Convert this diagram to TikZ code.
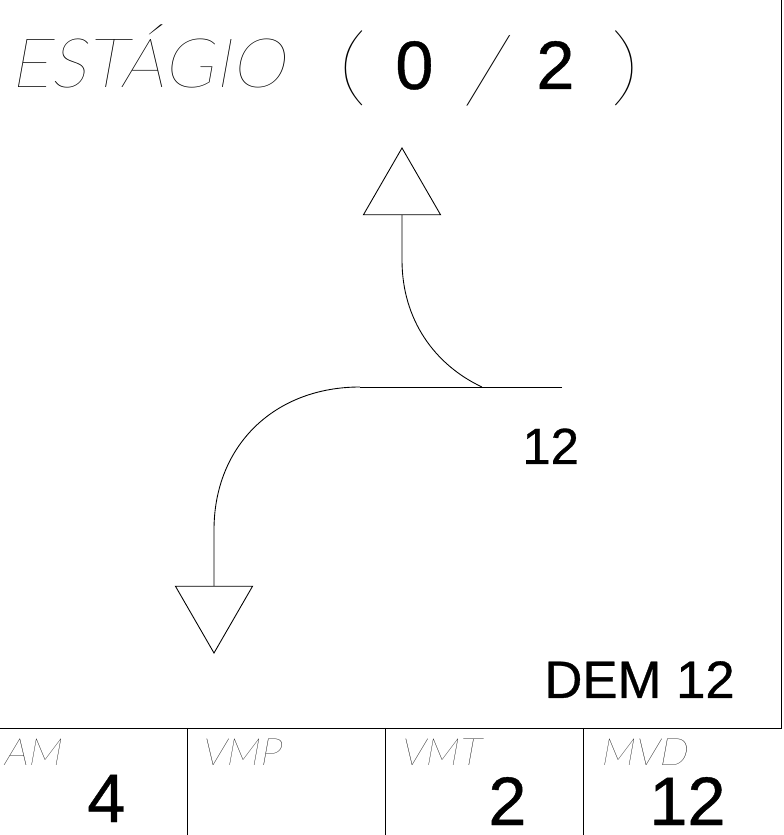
\documentclass[tikz,border=0pt]{standalone}
\usepackage{fontspec}
\setmainfont[FakeBold=0.6]{Liberation Sans}
\newfontfamily\thinfont[FakeSlant=0.18]{Lato Hairline}
\newfontfamily\thinupfont{Lato Hairline}
\usetikzlibrary{shapes.geometric}
\tikzset{
  marker/.style={draw, line width=0.5pt, regular polygon, regular polygon sides=3, inner sep=0pt, minimum size=1.78cm},
  thintext/.style={inner sep=0pt, anchor=base west, font=\thinfont\fontsize{21.5}{21.5}\selectfont},
  bracket/.style={inner sep=0pt, anchor=base west, xscale=1.4, font=\thinupfont\fontsize{49}{49}\selectfont},
  bigtext/.style={inner sep=0pt, anchor=base west, font=\fontsize{39}{39}\selectfont},
  rulestyle/.style={line width=0.5pt}
}
\begin{document}
\begin{tikzpicture}
    \useasboundingbox (0,0) rectangle (15.66,16.7);
    % header
    \node[thintext, font=\thinfont\fontsize{39}{39}\selectfont] (title) at (0.2,14.94) {ESTÁGIO};
    \node[bracket] (open) at (6.75,14.78) {(};
    \node[bigtext] (stage) at (7.9,14.92) {0};
    \node[thintext, font=\thinfont\fontsize{53}{53}\selectfont] (slash) at (9.27,14.64) {/};
    \node[bigtext] (total) at (10.72,14.92) {2};
    \node[bracket] (close) at (12.2,14.78) {)};
    % arrows
    \node[marker] (up) at (8.04,12.85) {};
    \node[marker, shape border rotate=180] (down) at (4.28,4.53) {};
    \coordinate (rightend) at (11.24,8.96);
    \coordinate (forkup) at (9.64,8.96);
    \coordinate (forkdown) at (7.2,8.96);
    \draw[rulestyle] (rightend) -- (forkdown);
    \draw[rulestyle] (up.side 2) -- (8.04,11.5) .. controls (8.04,10.3) and (8.7,9.4) .. (forkup);
    \draw[rulestyle] (down.side 2) -- (4.28,6.1) .. controls (4.28,7.8) and (5.5,8.96) .. (forkdown);
    \node[inner sep=0pt, anchor=base west, font=\fontsize{29}{29}\selectfont] (flow) at (10.44,7.42) {12};
    \node[bigtext, font=\fontsize{30}{30}\selectfont] (dem) at (10.88,2.74) {DEM 12};
    % table
    \coordinate (tl) at (0,2.14);
    \coordinate (tr) at (15.62,2.14);
    \draw[rulestyle] (tl) -- (tr) -- (15.62,16.7);
    \foreach \x/\name/\txt in {0.06/am/AM, 4.02/vmp/VMP, 8.0/vmt/VMT, 12.0/mvd/MVD}
        \node[thintext] (\name) at (\x,1.4) {\txt};
    \foreach \x in {3.74,7.7,11.66}
        \draw[rulestyle] (\x,2.14) -- (\x,0);
    \node[bigtext] (amval) at (1.74,0.26) {4};
    \node[bigtext] (vmtval) at (9.76,0.2) {2};
    \node[bigtext] (mvdval) at (12.98,0.2) {12};
\end{tikzpicture}
\end{document}
